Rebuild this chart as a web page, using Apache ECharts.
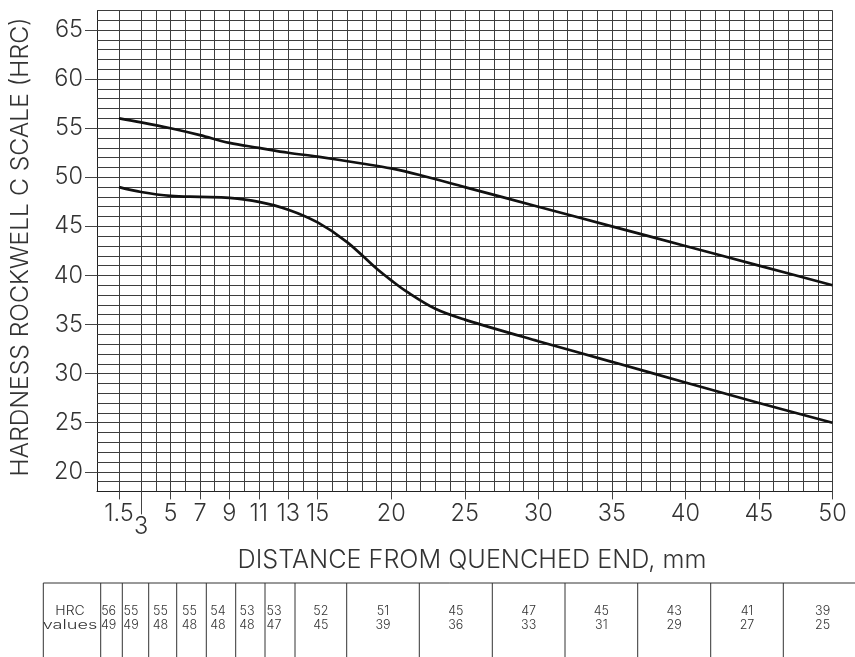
<!DOCTYPE html>
<html><head><meta charset="utf-8">
<script src="https://cdn.jsdelivr.net/npm/echarts@6/dist/echarts.min.js"></script>
<style>html,body{margin:0;padding:0;background:#fff}#c{width:855px;height:657px}</style>
</head><body><div id="c"></div>
<script>
// ---- data ----
const xTickLabels = [1.5, 3, 5, 7, 9, 11, 13, 15, 20, 25, 30, 35, 40, 45, 50];
const yTickLabels = [20, 25, 30, 35, 40, 45, 50, 55, 60, 65];
const upperX = [1.5, 3, 5, 7, 9, 11, 13, 15, 18, 20, 22, 25, 30, 35, 40, 45, 50];
const upperY = [56, 55.6, 55, 54.3, 53.5, 53, 52.5, 52.1, 51.4, 50.9, 50.2, 49, 47, 45, 43, 41, 39];
const lowerX = [1.5, 3, 5, 7, 9, 11, 13, 15, 17, 19, 20, 21, 23, 25, 30, 35, 40, 45, 50];
const lowerY = [49, 48.5, 48.1, 48, 47.9, 47.5, 46.7, 45.4, 43.4, 40.7, 39.5, 38.4, 36.6, 35.5, 33.3, 31.2, 29.1, 27, 25];
const tableDist = [1.5, 3, 5, 7, 9, 11, 13, 15, 20, 25, 30, 35, 40, 45, 50];
const tableUpper = [56, 55, 55, 55, 54, 53, 53, 52, 51, 45, 47, 45, 43, 41, 39];
const tableLower = [49, 49, 48, 48, 48, 48, 47, 45, 39, 36, 33, 31, 29, 27, 25];
const tableHead = ['HRC', 'values'];
const yTitle = 'HARDNESS ROCKWELL C SCALE (HRC)';
const xTitle = 'DISTANCE FROM QUENCHED END, mm';

// grid line positions on the chart paper
const gridX = [1.5, 3];
for (let v = 4; v <= 50; v++) gridX.push(v);
const gridY = [];
for (let v = 19; v <= 67; v++) gridY.push(v);

// ---- layout ----
const FONT = 'Inter, "Liberation Sans", Arial, sans-serif';
const TXT = '#333';
const GRIDC = '#3d3d3d';
const tableEdges = [43.3, 100.7, 122.3, 148.7, 176.7, 206.3, 235.7, 265, 295, 346.7, 419.3, 492.3, 565, 637.7, 710.7, 783.3, 862];
const tableTextX = [70, 108.6, 131, 160.5, 189.5, 218, 247, 274];
const tableTop = 583;

const chart = echarts.init(document.getElementById('c'), null, {renderer: 'canvas'});

const graphics = [];
graphics.push({type: 'text', x: 21, y: 247, rotation: Math.PI / 2,
  style: {text: yTitle, font: '300 24.6px ' + FONT, fill: TXT, textAlign: 'center', textVerticalAlign: 'middle'}});
graphics.push({type: 'text', x: 472, y: 560,
  style: {text: xTitle, font: '300 25.2px ' + FONT, fill: TXT, textAlign: 'center', textVerticalAlign: 'middle'}});
graphics.push({type: 'line', shape: {x1: tableEdges[0], y1: tableTop, x2: 855, y2: tableTop}, style: {stroke: '#333', lineWidth: 1}});
tableEdges.forEach(function (ex) {
  graphics.push({type: 'line', shape: {x1: ex, y1: tableTop, x2: ex, y2: 657}, style: {stroke: '#333', lineWidth: 1}});
});
function cellText(i, t, row, sx) {
  const cx = i < tableTextX.length ? tableTextX[i] : (tableEdges[i] + tableEdges[i + 1]) / 2;
  graphics.push({type: 'text', x: cx, y: tableTop + 28 + row * 14, scaleX: sx || 1.0,
    style: {text: String(t), font: '300 12.5px ' + FONT, fill: TXT, textAlign: 'center', textVerticalAlign: 'middle'}});
}
cellText(0, tableHead[0], 0, 1.12);
cellText(0, tableHead[1], 1, 1.45);
tableDist.forEach(function (d, k) {
  cellText(k + 1, tableUpper[k], 0);
  cellText(k + 1, tableLower[k], 1);
});

const paperLines = {
  silent: true, symbol: ['none', 'none'], label: {show: false}, animation: false,
  lineStyle: {color: GRIDC, width: 1, type: 'solid'},
  emphasis: {disabled: true},
  data: gridX.map(function (v) { return {xAxis: v}; }).concat(gridY.map(function (v) { return {yAxis: v}; }))
};
const labelStyle = {fontSize: 23.5, fontWeight: 300, fontFamily: FONT, color: TXT};

const option = {
  animation: false,
  backgroundColor: '#fff',
  grid: {left: 97, top: 10.4, width: 735.5, height: 481},
  xAxis: [{
    type: 'value', min: 0, max: 50, interval: 5,
    axisLine: {show: true, lineStyle: {color: '#222', width: 1}},
    axisTick: {show: true, customValues: xTickLabels, length: 8, lineStyle: {color: '#444'}},
    axisLabel: Object.assign({show: true, hideOverlap: false, customValues: xTickLabels.filter(function (v) { return v !== 3; }),
      margin: 11}, labelStyle),
    splitLine: {show: false}
  }, {
    type: 'value', min: 0, max: 50, interval: 5, position: 'bottom',
    axisLine: {show: false},
    axisTick: {show: true, customValues: [3], length: 23, lineStyle: {color: '#444'}},
    axisLabel: Object.assign({show: true, customValues: [3], margin: 24}, labelStyle),
    splitLine: {show: false}
  }],
  yAxis: {
    type: 'value', min: 18, max: 67, interval: 1,
    axisLine: {show: true, lineStyle: {color: '#222', width: 1}},
    axisTick: {show: true, customValues: yTickLabels, length: 12, lineStyle: {color: '#444'}},
    axisLabel: Object.assign({show: true, customValues: yTickLabels, margin: 14}, labelStyle),
    splitLine: {show: false}
  },
  series: [{
    type: 'line', data: [], z: 1, silent: true,
    markLine: paperLines
  }, {
    name: 'upper', type: 'line', z: 5, smooth: 0.35, symbol: 'none',
    lineStyle: {color: '#111', width: 2.7},
    data: upperX.map(function (x, i) { return [x, upperY[i]]; })
  }, {
    name: 'lower', type: 'line', z: 5, smooth: 0.35, symbol: 'none',
    lineStyle: {color: '#111', width: 2.7},
    data: lowerX.map(function (x, i) { return [x, lowerY[i]]; })
  }],
  graphic: graphics
};
chart.setOption(option);
</script></body></html>
